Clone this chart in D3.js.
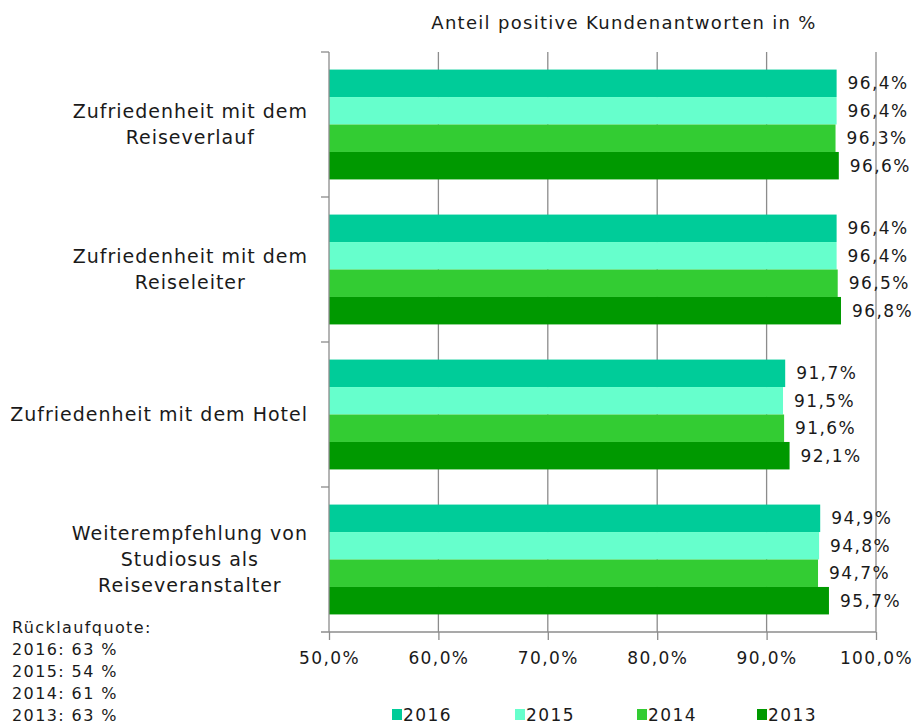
<!DOCTYPE html>
<html>
<head>
<meta charset="utf-8">
<script src="https://cdn.jsdelivr.net/npm/d3@7"></script>
<style>
  body { margin: 0; background: #fff; }
  text { font-family: "DejaVu Sans", Verdana, sans-serif; fill: #1a1a1a; }
</style>
</head>
<body>
<div id="chart"></div>
<script>
// Categories (top to bottom), each label split into lines
const categories = [
    ["Zufriedenheit mit dem", "Reiseverlauf"],
    ["Zufriedenheit mit dem", "Reiseleiter"],
    ["Zufriedenheit mit dem Hotel"],
    ["Weiterempfehlung von", "Studiosus als", "Reiseveranstalter"]
];
const years = ["2016", "2015", "2014", "2013"];
const values2016 = [96.4, 96.4, 91.7, 94.9];
const values2015 = [96.4, 96.4, 91.5, 94.8];
const values2014 = [96.3, 96.5, 91.6, 94.7];
const values2013 = [96.6, 96.8, 92.1, 95.7];
const xTicks = [50, 60, 70, 80, 90, 100];
const notes = ["Rücklaufquote:", "2016: 63 %", "2015: 54 %", "2014: 61 %", "2013: 63 %"];
const colors = ["#00cc99", "#66ffcc", "#33cc33", "#009900"];

const series = [values2016, values2015, values2014, values2013];

const width = 916;
const height = 726;
const plot = { left: 329, right: 876, top: 52, bottom: 632 };

const svg = d3.select("#chart")
    .append("svg")
    .attr("width", width)
    .attr("height", height);

const x = d3.scaleLinear().domain([50, 100]).range([plot.left, plot.right]);
const y = d3.scaleBand().domain(d3.range(categories.length)).range([plot.top, plot.bottom]);
const inner = d3.scaleBand().domain(years).range([0, y.bandwidth()]).paddingOuter(0.64);

const fmt = v => v.toFixed(1).replace(".", ",") + "%";

// Title
svg.append("text")
    .attr("x", 624)
    .attr("y", 29)
    .attr("text-anchor", "middle")
    .style("font-size", "18px")
    .style("letter-spacing", "1.3px")
    .text("Anteil positive Kundenantworten in %");

// Vertical gridlines
svg.append("g")
    .selectAll("line")
    .data(xTicks.slice(1))
    .enter()
    .append("line")
    .attr("x1", d => x(d)).attr("x2", d => x(d))
    .attr("y1", plot.top).attr("y2", plot.bottom)
    .attr("stroke", "#8c8c8c")
    .attr("stroke-width", 1.3);

// Bars
series.forEach((vals, si) => {
    svg.append("g")
        .selectAll("rect")
        .data(vals)
        .enter()
        .append("rect")
        .attr("x", x(50))
        .attr("y", (d, i) => y(i) + inner(years[si]))
        .attr("width", d => x(d) - x(50))
        .attr("height", inner.bandwidth())
        .attr("fill", colors[si]);

    svg.append("g")
        .selectAll("text")
        .data(vals)
        .enter()
        .append("text")
        .attr("x", d => x(d) + 11)
        .attr("y", (d, i) => y(i) + inner(years[si]) + inner.bandwidth() / 2)
        .attr("dy", "0.36em")
        .style("font-size", "17px")
        .style("letter-spacing", "1.4px")
        .text(fmt);
});

// Bottom axis
const xAxis = svg.append("g")
    .attr("transform", `translate(0,${plot.bottom})`)
    .call(d3.axisBottom(x).tickValues(xTicks).tickSize(8).tickFormat(d => d.toFixed(1).replace(".", ",") + "%"));
xAxis.select(".domain").attr("stroke", "#8c8c8c").attr("stroke-width", 1.3)
    .attr("d", `M${plot.left - 8},0H${plot.right}`);
xAxis.selectAll(".tick line").attr("stroke", "#8c8c8c").attr("stroke-width", 1.3);
xAxis.selectAll(".tick text")
    .attr("y", 20)
    .style("font-size", "17px")
    .style("letter-spacing", "1.4px")
    .style("font-family", "'DejaVu Sans', Verdana, sans-serif")
    .attr("fill", "#1a1a1a");

// Left axis with ticks at category boundaries
svg.append("line")
    .attr("x1", plot.left).attr("x2", plot.left)
    .attr("y1", plot.top).attr("y2", plot.bottom)
    .attr("stroke", "#8c8c8c").attr("stroke-width", 1.3);
svg.append("g")
    .selectAll("line")
    .data(d3.range(categories.length))
    .enter()
    .append("line")
    .attr("x1", plot.left - 8).attr("x2", plot.left)
    .attr("y1", d => y(d)).attr("y2", d => y(d))
    .attr("stroke", "#8c8c8c").attr("stroke-width", 1.3);

// Category labels, centred on their widest line, right edge near the axis
const lineH = 26;
categories.forEach((lines, i) => {
    const g = svg.append("g");
    const t = g.selectAll("text")
        .data(lines)
        .enter()
        .append("text")
        .attr("y", (d, j) => y(i) + y.bandwidth() / 2 + (j - (lines.length - 1) / 2) * lineH)
        .attr("dy", "0.36em")
        .attr("text-anchor", "middle")
        .style("font-size", "19px")
        .style("letter-spacing", "1px")
        .text(d => d);
    const maxW = d3.max(t.nodes(), n => n.getComputedTextLength());
    t.attr("x", 308 - maxW / 2);
});

// Response-rate notes
svg.append("g")
    .selectAll("text")
    .data(notes)
    .enter()
    .append("text")
    .attr("x", 12)
    .attr("y", (d, i) => 633 + i * 22)
    .style("font-size", "16px")
    .style("letter-spacing", "1.4px")
    .text(d => d);

// Legend
const legendX = [392, 515, 637, 757];
const legend = svg.append("g")
    .selectAll("g")
    .data(years)
    .enter()
    .append("g")
    .attr("transform", (d, i) => `translate(${legendX[i]},715)`);
legend.append("rect")
    .attr("x", 0).attr("y", -6)
    .attr("width", 10).attr("height", 11)
    .attr("fill", (d, i) => colors[i]);
legend.append("text")
    .attr("x", 11)
    .attr("y", 0)
    .attr("dy", "0.36em")
    .style("font-size", "17px")
    .style("letter-spacing", "1.4px")
    .text(d => d);
</script>
</body>
</html>
